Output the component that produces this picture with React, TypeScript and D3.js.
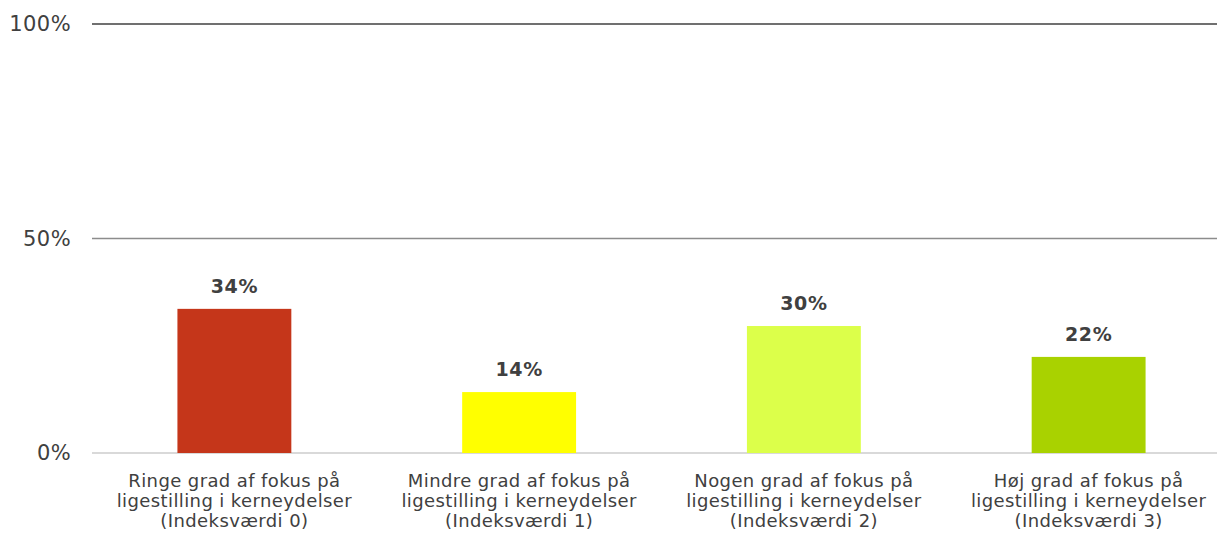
import { useEffect } from 'react';
import * as d3 from 'd3';

const categories = [
  ['Ringe grad af fokus på', 'ligestilling i kerneydelser', '(Indeksværdi 0)'],
  ['Mindre grad af fokus på', 'ligestilling i kerneydelser', '(Indeksværdi 1)'],
  ['Nogen grad af fokus på', 'ligestilling i kerneydelser', '(Indeksværdi 2)'],
  ['Høj grad af fokus på', 'ligestilling i kerneydelser', '(Indeksværdi 3)'],
];
const values = [33.6, 14.2, 29.6, 22.4];
const barColors = ['#c5361a', '#ffff00', '#dcff4a', '#a9d200'];
const yTicks = [0, 50, 100];
const gridColors = ['#d9d9d9', '#8c8c8c', '#404040'];

const WIDTH = 1217;
const HEIGHT = 533;
const MARGIN = { top: 24, left: 92, bottom: 80 };
const FONT = '"DejaVu Sans", Verdana, sans-serif';
const TEXT = '#404040';

export default function App() {
  useEffect(() => {
    document.body.style.margin = '0';
  }, []);

  const y = d3.scaleLinear().domain([0, 100]).range([HEIGHT - MARGIN.bottom, MARGIN.top]);
  const x = d3
    .scaleBand<number>()
    .domain(d3.range(categories.length))
    .range([MARGIN.left, 1231])
    .paddingInner(0.6)
    .paddingOuter(0.3);

  return (
    <svg width={WIDTH} height={HEIGHT} style={{ display: 'block', fontFamily: FONT }}>
      {/* grid lines + y tick labels */}
      {yTicks.map((t, i) => (
        <g key={t}>
          <line
            x1={MARGIN.left}
            x2={WIDTH}
            y1={y(t)}
            y2={y(t)}
            stroke={gridColors[i]}
            strokeWidth={t === 0 ? 2 : 1.3}
          />
          <text
            x={71}
            y={y(t)}
            dy="0.35em"
            textAnchor="end"
            fontSize={21}
            letterSpacing={0.4}
            fill={TEXT}
          >
            {t}%
          </text>
        </g>
      ))}

      {/* bars */}
      {values.map((v, i) => (
        <g key={i}>
          <rect
            x={x(i)}
            y={y(v)}
            width={x.bandwidth()}
            height={y(0) - y(v)}
            fill={barColors[i]}
          />
          <text
            x={(x(i) ?? 0) + x.bandwidth() / 2}
            y={y(v) - 16}
            textAnchor="middle"
            fontSize={19}
            letterSpacing={0.6}
            fontWeight="bold"
            fill={TEXT}
          >
            {Math.round(v)}%
          </text>
        </g>
      ))}

      {/* category labels */}
      {categories.map((lines, i) => (
        <text
          key={i}
          x={(x(i) ?? 0) + x.bandwidth() / 2}
          y={y(0) + 34}
          textAnchor="middle"
          fontSize={18}
          letterSpacing={0.4}
          fill={TEXT}
        >
          {lines.map((l, j) => (
            <tspan key={j} x={(x(i) ?? 0) + x.bandwidth() / 2} dy={j === 0 ? 0 : 20}>
              {l}
            </tspan>
          ))}
        </text>
      ))}
    </svg>
  );
}
